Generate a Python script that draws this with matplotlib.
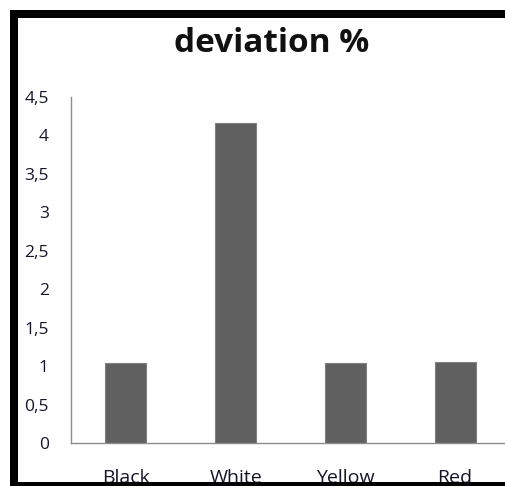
import matplotlib
matplotlib.use("Agg")
import matplotlib.pyplot as plt
from matplotlib.patches import Rectangle

categories = ["Black", "White", "Yellow", "Red"]
deviation = [1.04, 4.16, 1.04, 1.05]
y_ticks = [0, 0.5, 1, 1.5, 2, 2.5, 3, 3.5, 4, 4.5]
y_tick_labels = ["0", "0,5", "1", "1,5", "2", "2,5", "3", "3,5", "4", "4,5"]

W, H = 506, 486
fig = plt.figure(figsize=(W / 100, H / 100), dpi=100)
fig.patch.set_facecolor("white")

font = "Open Sans"
text_color = "#15152a"

# plot area in pixel coordinates (left, top, right, bottom)
left, top, right, bottom = 71, 97, 510, 443
ax = fig.add_axes([left / W, (H - bottom) / H, (right - left) / W, (bottom - top) / H])

x = range(len(categories))
ax.bar(x, deviation, width=0.375, color="#606060", edgecolor="#808080",
       linewidth=0.8, zorder=2)

ax.set_xlim(-0.5, 3.5)
ax.set_ylim(0, 4.5)
ax.set_yticks(y_ticks)
ax.set_yticklabels(y_tick_labels, fontfamily=font, fontsize=12.5, color=text_color)
ax.set_xticks(list(x))
ax.set_xticklabels(categories, fontfamily=font, fontsize=14, color=text_color)
ax.tick_params(axis="y", length=0, pad=16)
ax.tick_params(axis="x", length=0, pad=19)

for side in ("top", "right"):
    ax.spines[side].set_visible(False)
for side in ("left", "bottom"):
    ax.spines[side].set_color("#8c8c8c")
    ax.spines[side].set_linewidth(1.0)

fig.text(272 / W, 1 - 43 / H, "deviation %", ha="center", va="center",
         fontfamily=font, fontsize=24, fontweight="bold", color="#111111")

# black frame along top, left and bottom edges
def px_rect(x0, y0, x1, y1):
    fig.add_artist(Rectangle((x0 / W, 1 - y1 / H), (x1 - x0) / W, (y1 - y0) / H,
                             transform=fig.transFigure, facecolor="black",
                             edgecolor="none", zorder=10))

px_rect(10, 10, W, 18)
px_rect(10, 10, 18, H)
px_rect(10, 482, W, H)

fig.savefig("out.png", dpi=100, facecolor="white")
